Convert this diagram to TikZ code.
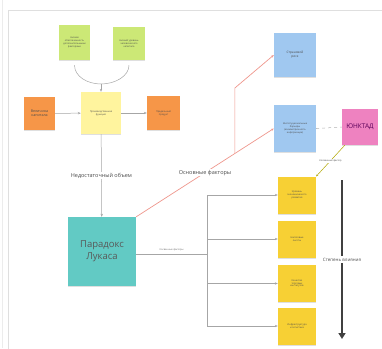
\documentclass[tikz,border=0pt]{standalone}
\usepackage{fontspec}
\setmainfont{Open Sans}
\definecolor{notegreen}{RGB}{204,232,118}
\definecolor{notepale}{RGB}{255,244,158}
\definecolor{noteorange}{RGB}{246,150,72}
\definecolor{noteblue}{RGB}{160,200,240}
\definecolor{notepink}{RGB}{238,130,192}
\definecolor{noteteal}{RGB}{98,202,196}
\definecolor{noteyellow}{RGB}{247,208,52}
\definecolor{linkred}{RGB}{238,150,140}
\usepackage{tikz}
\usetikzlibrary{arrows.meta, positioning, shadows, calc}

\begin{document}
\begin{tikzpicture}[x=1pt, y=-1pt,
  note/.style={rectangle, inner sep=1pt, align=center, text=black!70,
    drop shadow={shadow xshift=0pt, shadow yshift=-1.3pt, opacity=.25},
    font=\fontsize{2.4}{2.9}\selectfont},
  link/.style={gray!70, line width=0.5pt, -{Stealth[length=3pt,width=2.4pt]}},
  lbl/.style={fill=white, inner sep=0.8pt, text=black!70, font=\fontsize{5.5}{6}\selectfont}]
  \useasboundingbox (0,0) rectangle (382,348);

  % Frame
  \draw[gray!15, line width=1pt] (2,0) -- (2,348);
  \draw[gray!25] (8,352) -- (8,10) -- (386,10);

  % Production function block
  \node[note, fill=notegreen, minimum width=31pt, minimum height=35pt] (gl) at (74.5,42.5)
    {Низкая\\обеспеченность\\дополнительными\\факторами};
  \node[note, fill=notegreen, minimum width=32pt, minimum height=33pt] (gr) at (129,43.5)
    {Низкий уровень\\человеческого\\капитала};
  \node[note, fill=notepale, minimum width=40pt, minimum height=42pt] (pf) at (101,113)
    {Производственная\\функция};
  \node[note, fill=noteorange, minimum width=31pt, minimum height=33pt,
    font=\fontsize{3.6}{4.4}\selectfont] (ol) at (39.5,113.5) {Величина\\капитала};
  \node[note, fill=noteorange, minimum width=33pt, minimum height=34pt] (or) at (163.5,113)
    {Предельный\\продукт};
  \coordinate (merge) at (101,84);
  \draw[link, -, shorten <=5pt] (gl.south) .. controls +(0,16) and +(-14,0) .. (merge);
  \draw[link, -, shorten <=5pt] (gr.south) .. controls +(0,16) and +(14,0) .. (merge);
  \draw[link] (merge) -- (pf.north);
  \draw[link] (ol) -- (pf);
  \draw[link] (pf) -- (or);

  % Lucas paradox
  \node[note, fill=noteteal, minimum width=68pt, minimum height=69pt, text=black!65,
    font=\fontsize{9.5}{12}\selectfont] (lucas) at (102,251.5) {Парадокс\\Лукаса};
  \draw[link] (pf) -- node[lbl] {Недостаточный объем} (lucas);

  % Main factors
  \node[note, fill=noteblue, minimum width=42pt, minimum height=44pt,
    font=\fontsize{3.2}{4}\selectfont] (risk) at (295,55) {Страновой\\риск};
  \node[note, fill=noteblue, minimum width=42pt, minimum height=47pt] (inst) at (295,128.5)
    {Институциональные\\барьеры\\(асимметричность\\информации)};
  \node[note, fill=notepink, minimum width=36pt, minimum height=36pt, text=violet!70!black,
    font=\fontsize{6.5}{8}\selectfont] (unctad) at (360,127) {ЮНКТАД};
  \coordinate (bend) at (235,88);
  \draw[linkred, line width=0.7pt, -{Stealth[length=3pt,width=2.4pt]}]
    (lucas.north east) -- coordinate[pos=0.717] (branch)
    node[lbl, pos=0.5] {Основные факторы} (inst.west);
  \draw[linkred, line width=0.7pt, -{Stealth[length=3pt,width=2.4pt]}]
    (branch) -- (branch |- bend) -- (risk.west);
  \draw[gray!60, dashed, line width=0.5pt] (inst.east) -- (unctad.west);

  % Indirect factors
  \foreach \n/\y/\t in {y1/195/{Уровень\\экономического\\развития},
                        y2/239/{Налоговые\\льготы},
                        y3/283.5/{Качество\\торговых\\институтов},
                        y4/326/{Инфраструктура\\и логистика}}
    \node[note, fill=noteyellow, minimum width=38pt, minimum height=37pt] (\n) at (297,\y) {\t};
  \draw[olive!70!yellow, line width=0.5pt, -{Stealth[length=2pt,width=1.8pt]}]
    ([xshift=3pt]unctad.south west) -- node[lbl, font=\fontsize{2.4}{3}\selectfont]
    {Косвенный фактор} (y1.north east);
  \coordinate (hub) at (207,255);
  \draw[gray!70, double, double distance=0.8pt, line width=0.4pt] ([yshift=-3.5pt]lucas.east) -- (hub)
    node[midway, above=0pt, text=black!60, font=\fontsize{2.4}{3}\selectfont] {Косвенные факторы};
  \draw[gray!70, line width=0.5pt] (hub |- y1.west) -- (hub |- y4.west);
  \foreach \n in {y1,y2,y3,y4}
    \draw[link] (hub |- \n.west) -- (\n.west);

  % Degree of influence
  \coordinate (top) at (342,180);
  \coordinate (bot) at (342,339);
  \draw[black!75, line width=2.2pt, -{Triangle[length=6pt,width=7pt]}]
    (top) -- node[lbl, font=\fontsize{4.5}{5}\selectfont, inner sep=2pt] {Степень влияния} (bot);
\end{tikzpicture}
\end{document}
